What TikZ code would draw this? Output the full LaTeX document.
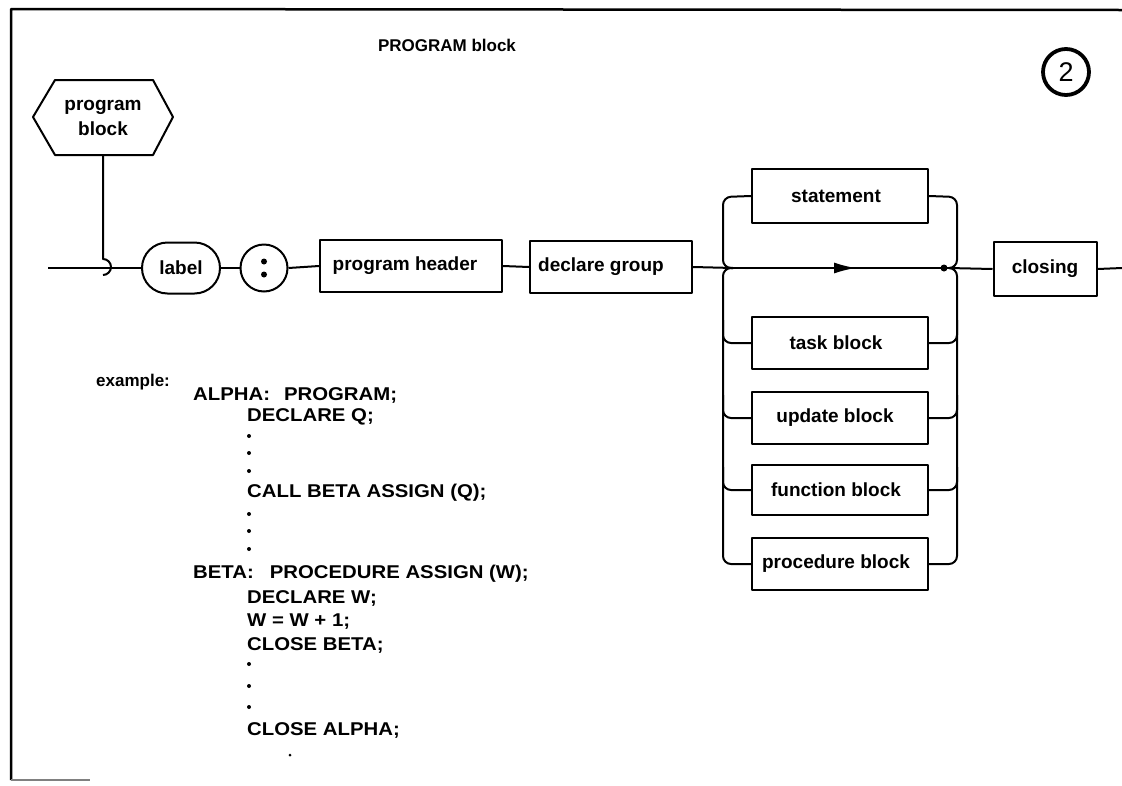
\documentclass[tikz,border=0pt]{standalone}
\usepackage{fontspec}
\setmainfont{Liberation Sans}
\newfontfamily\codefont[FakeStretch=1.1]{Liberation Sans}
\usetikzlibrary{shapes.misc,arrows.meta,decorations.markings}
\tikzset{
  lbl/.style={font=\fontsize{19}{22}\selectfont\bfseries},
  box/.style={lbl,draw,line width=2pt,minimum height=52pt,inner sep=0pt},
  rail/.style={line width=2pt,rounded corners=8pt},
  codeline/.style={anchor=base west,inner sep=0pt,font=\codefont\fontsize{18.5}{20}\selectfont\bfseries},
}
\begin{document}
\begin{tikzpicture}[x=1pt,y=-1pt,line join=round]
\useasboundingbox (0,0) rectangle (1122,785);
% frame
\draw[line width=2.5pt] (11,780) -- (11,9) -- (1122,10);
\draw[gray,line width=1.2pt] (11,780) -- (90,780);
% title and number
\node[font=\fontsize{17}{20}\selectfont\bfseries] (title) at (447,45) {PROGRAM block};
\node[draw,circle,line width=3.8pt,minimum size=46pt,inner sep=0pt,font=\fontsize{27}{28}\selectfont] (num) at (1066,72) {2};
% program block hexagon
\node[lbl,align=center] (pb) at (103,118) {program\\[3pt]block};
\draw[line width=2pt] (33,117) -- (55,80) -- (153,80) -- (173,117) -- (153,155) -- (55,155) -- cycle;
\coordinate (pbbot) at (103,155);
% main line nodes
\coordinate (start) at (48,268);
\node[lbl,draw,line width=2pt,rounded rectangle,minimum width=78pt,minimum height=51pt,inner sep=0pt] (lab) at (181,268) {label};
\node[draw,circle,line width=2pt,minimum size=47pt,inner sep=0pt] (col) at (264,268) {};
\fill (col.center) ++(0,-6.5) circle[radius=3pt];
\fill (col.center) ++(0,6.5) circle[radius=3pt];
\node[box,minimum width=182pt] (ph) at (411,266) {program header\hspace*{12pt}};
\node[box,minimum width=162pt] (dg) at (611,267) {declare group\hspace*{20pt}};
\node[box,minimum width=176pt,minimum height=54pt] (st) at (840,196) {statement\hspace*{8pt}};
\node[box,minimum width=176pt] (tb) at (840,343) {task block\hspace*{8pt}};
\node[box,minimum width=176pt] (ub) at (840,418) {update block\hspace*{10pt}};
\node[box,minimum width=176pt,minimum height=50pt] (fb) at (840,490) {function block\hspace*{8pt}};
\node[box,minimum width=176pt] (pr) at (840,564) {procedure block\hspace*{8pt}};
\node[box,minimum width=103pt,minimum height=54pt] (cl) at (1045,269) {closing};
\coordinate (jl) at (733,268);
\coordinate (jr) at (949,268);
\coordinate (fin) at (1122,268);
\node[circle,fill,inner sep=0pt,minimum size=7pt] (dot) at (944,268) {};
% connectors
\draw[line width=2pt] (pbbot) -- (103,259) arc[start angle=90,end angle=-90,radius=8pt];
\draw[line width=1.6pt] (start) -- (lab.west);
\draw[line width=2pt] (lab.east) -- (col.west);
\draw[line width=2pt] (col.east) -- (ph.west);
\draw[line width=2pt] (ph.east) -- (dg.west);
\draw[line width=2pt] (dg.east) -- (jl);
\draw[line width=2pt,postaction={decorate},decoration={markings,mark=at position 0.57 with {\arrow{Latex[length=22pt,width=11pt]}}}] (jl) -- (jr);
\draw[line width=2pt] (jr) -- (cl.west);
\draw[line width=2pt] (cl.east) -- (fin);
% left bus
\draw[rail] (jl) -- (723,268) -- (723,197) -- (st.west);
\draw[rail] (jl) -- (723,268) -- (723,564) -- (pr.west);
\draw[rail] (723,320) -- (723,343) -- (tb.west);
\draw[rail] (723,395) -- (723,418) -- (ub.west);
\draw[rail] (723,467) -- (723,490) -- (fb.west);
% right bus
\draw[rail] (st.east) -- (957,197) -- (957,268) -- (jr);
\draw[rail] (pr.east) -- (957,564) -- (957,268) -- (jr);
\draw[rail] (tb.east) -- (957,343) -- (957,320);
\draw[rail] (ub.east) -- (957,418) -- (957,395);
\draw[rail] (fb.east) -- (957,490) -- (957,467);
% example
\node[anchor=base west,inner sep=0pt,font=\fontsize{17}{20}\selectfont\bfseries] (ex) at (96,386) {example:};
\node[codeline] (c1) at (193,400) {ALPHA:\hspace{14pt}PROGRAM;};
\node[codeline] (c2) at (247,421) {DECLARE Q;};
\node[codeline] (c3) at (247,497) {CALL BETA ASSIGN (Q);};
\node[codeline] (c4) at (193,578) {BETA:\hspace{16pt}PROCEDURE ASSIGN (W);};
\node[codeline] (c5) at (247,603) {DECLARE W;};
\node[codeline] (c6) at (247,626) {W = W + 1;};
\node[codeline] (c7) at (247,650) {CLOSE BETA;};
\node[codeline] (c8) at (247,735) {CLOSE ALPHA;};
\foreach \yy in {436,453,471,514,531,549,664,686,707}
  \fill (249,\yy) circle[radius=2pt];
\fill (290,755) circle[radius=1.5pt];
\end{tikzpicture}
\end{document}
